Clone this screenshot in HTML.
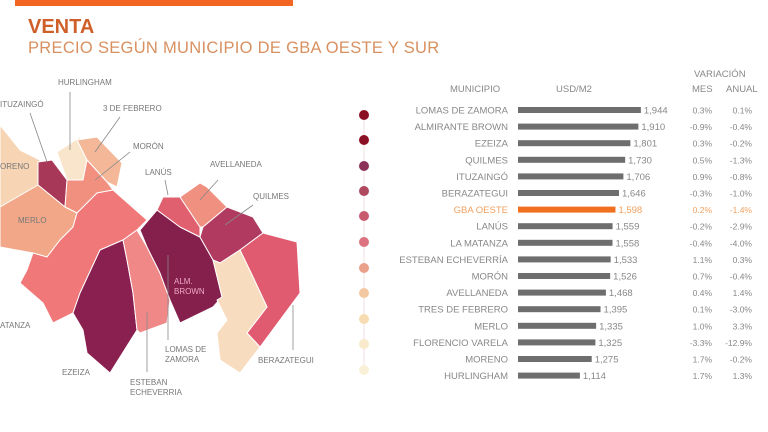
<!DOCTYPE html>
<html><head><meta charset="utf-8"><style>
body{margin:0;width:768px;height:432px;background:#fff;overflow:hidden;position:relative;font-family:"Liberation Sans",sans-serif}
.t{position:absolute;white-space:nowrap}
</style></head><body>
<div class="t" style="left:15px;top:0;width:278px;height:6px;background:#f26522"></div>
<div class="t" style="left:28px;top:16px;font-size:20px;font-weight:bold;color:#d0602a">VENTA</div>
<div class="t" style="left:28px;top:39px;font-size:16.5px;color:#d89060;letter-spacing:0.3px">PRECIO SEGÚN MUNICIPIO DE GBA OESTE Y SUR</div>
<svg width="768" height="432" style="position:absolute;left:0;top:0" font-family="Liberation Sans, sans-serif">
<g stroke="#fff" stroke-width="1" stroke-linejoin="round">
<path d="M0,125 L20,150 L40,160 L38,185 L20,200 L0,207Z" fill="#f6d4b4"/>
<path d="M38,162 L52,160 L67,180 L65,207 L60,203 L38,185Z" fill="#a83858"/>
<path d="M57,152 L80,137 L87,160 L83,180 L67,180Z" fill="#f9e4cc"/>
<path d="M77,140 L97,137 L122,163 L117,187 L107,182 L87,160Z" fill="#f4b898"/>
<path d="M67,180 L83,180 L87,160 L107,182 L113,190 L97,193 L77,213 L65,207Z" fill="#f29080"/>
<path d="M0,207 L38,185 L65,207 L77,213 L73,227 L60,240 L47,257 L33,253 L0,247Z" fill="#f2a888"/>
<path d="M77,213 L97,193 L113,190 L147,220 L137,230 L123,240 L100,250 L80,293 L73,313 L53,323 L43,303 L20,283 L27,270 L33,253 L47,257 L60,240 L73,227Z" fill="#f07878"/>
<path d="M100,250 L123,240 L127,260 L133,293 L137,330 L110,373 L87,353 L83,330 L73,313 L80,293Z" fill="#8a2050"/>
<path d="M123,240 L137,230 L147,247 L160,273 L170,300 L167,323 L140,333 L137,330 L133,293 L127,260Z" fill="#f08888"/>
<path d="M140,230 L157,210 L180,227 L200,237 L213,260 L222,297 L213,307 L180,323 L170,300 L160,273 L147,247Z" fill="#85204c"/>
<path d="M157,210 L163,197 L180,197 L200,227 L200,237 L180,227Z" fill="#e06070"/>
<path d="M180,197 L200,183 L207,187 L227,207 L203,227 L200,227Z" fill="#f09080"/>
<path d="M203,227 L227,207 L253,217 L263,233 L240,250 L220,263 L213,260 L200,237Z" fill="#b03a60"/>
<path d="M240,250 L263,233 L297,242 L300,293 L260,347 L247,333 L267,307 L253,277Z" fill="#e05a70"/>
<path d="M213,260 L220,263 L240,250 L253,277 L267,307 L247,333 L260,347 L240,373 L220,360 L217,333 L227,320 L217,300 L222,297Z" fill="#f8dcc0"/>
</g>
<g font-size="8" fill="#777" stroke="none">
<text x="58" y="85">HURLINGHAM</text><text x="0" y="107">ITUZAINGÓ</text><text x="103" y="111">3 DE FEBRERO</text>
<text x="133" y="149">MORÓN</text><text x="145" y="175">LANÚS</text><text x="210" y="167">AVELLANEDA</text>
<text x="253" y="199">QUILMES</text><text x="0" y="169">ORENO</text><text x="18" y="223">MERLO</text>
<text x="0" y="328">ATANZA</text><text x="62" y="375">EZEIZA</text><text x="165" y="352">LOMAS DE</text><text x="165" y="362">ZAMORA</text>
<text x="130" y="385">ESTEBAN</text><text x="130" y="395">ECHEVERRIA</text><text x="258" y="363">BERAZATEGUI</text>
<text x="174" y="284" fill="#f0a8c8">ALM.</text><text x="174" y="294" fill="#f0a8c8">BROWN</text>
</g>
<g stroke="#888" stroke-width="0.8">
<line x1="70" y1="92" x2="70" y2="150"/><line x1="30" y1="113" x2="47" y2="162"/><line x1="120" y1="117" x2="95" y2="152"/>
<line x1="130" y1="152" x2="95" y2="180"/><line x1="165" y1="180" x2="168" y2="195"/><line x1="218" y1="180" x2="200" y2="200"/>
<line x1="253" y1="205" x2="225" y2="225"/><line x1="168" y1="255" x2="168" y2="340"/><line x1="147" y1="312" x2="147" y2="372"/><line x1="293" y1="305" x2="293" y2="350"/>
</g>
<line x1="364" y1="115" x2="364" y2="372" stroke="#f0e0e0" stroke-width="1"/>
<g>
<circle cx="364" cy="115" r="5" fill="#8a1024"/><circle cx="364" cy="140" r="5" fill="#8a1024"/>
<circle cx="364" cy="166" r="5" fill="#8c3058"/><circle cx="364" cy="191" r="5" fill="#b04860"/>
<circle cx="364" cy="216" r="5" fill="#c85a70"/><circle cx="364" cy="242" r="5" fill="#dc7280"/>
<circle cx="364" cy="268" r="5" fill="#eba08a"/><circle cx="364" cy="293" r="5" fill="#f3c8a0"/>
<circle cx="364" cy="319" r="5" fill="#f6dcb0"/><circle cx="364" cy="344" r="5" fill="#f9eacc"/>
<circle cx="364" cy="370" r="5" fill="#faf0d8"/>
</g>
<g font-size="9.5" fill="#888">
<text x="450" y="92">MUNICIPIO</text><text x="556" y="92">USD/M2</text>
<text x="694" y="77">VARIACIÓN</text><text x="692" y="92">MES</text><text x="726" y="92">ANUAL</text>
</g>
<g id="rows" font-size="9.5" fill="#888"></g>
</svg>
<script>
var d=[["LOMAS DE ZAMORA",1944,"0.3%","0.1%"],["ALMIRANTE BROWN",1910,"-0.9%","-0.4%"],["EZEIZA",1801,"0.3%","-0.2%"],["QUILMES",1730,"0.5%","-1.3%"],["ITUZAINGÓ",1706,"0.9%","-0.8%"],["BERAZATEGUI",1646,"-0.3%","-1.0%"],["GBA OESTE",1598,"0.2%","-1.4%"],["LANÚS",1559,"-0.2%","-2.9%"],["LA MATANZA",1558,"-0.4%","-4.0%"],["ESTEBAN ECHEVERRÍA",1533,"1.1%","0.3%"],["MORÓN",1526,"0.7%","-0.4%"],["AVELLANEDA",1468,"0.4%","1.4%"],["TRES DE FEBRERO",1395,"0.1%","-3.0%"],["MERLO",1335,"1.0%","3.3%"],["FLORENCIO VARELA",1325,"-3.3%","-12.9%"],["MORENO",1275,"1.7%","-0.2%"],["HURLINGHAM",1114,"1.7%","1.3%"]];
var s="";d.forEach(function(r,i){var y=110+i*16.6,w=0.0735*r[1]-20,o=r[0]=="GBA OESTE",c=o?"#f0a060":"#888",n=r[1].toString();n=n[0]+","+n.slice(1);
s+='<text x="508" y="'+(y+3.5)+'" text-anchor="end" fill="'+c+'">'+r[0]+'</text><rect x="518" y="'+(y-3)+'" width="'+w+'" height="6" fill="'+(o?"#f07020":"#6e6e6e")+'"/><text x="'+(521+w)+'" y="'+(y+3.5)+'" fill="'+c+'">'+n+'</text><text x="712" y="'+(y+3.5)+'" text-anchor="end" font-size="8.5" fill="'+c+'">'+r[2]+'</text><text x="752" y="'+(y+3.5)+'" text-anchor="end" font-size="8.5" fill="'+c+'">'+r[3]+'</text>';});
document.getElementById("rows").innerHTML=s;
</script>
</body></html>
